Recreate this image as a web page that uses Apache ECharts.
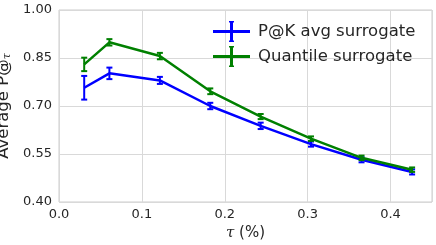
<!DOCTYPE html>
<html>
<head>
<meta charset="utf-8">
<script src="https://cdn.jsdelivr.net/npm/echarts@6/dist/echarts.min.js"></script>
<style>
  html, body { margin: 0; padding: 0; background: #fff; }
  #chart { width: 436px; height: 245px; }
</style>
</head>
<body>
<div id="chart"></div>
<script>
// tau values (%)
const tau = [0.0304, 0.0608, 0.1217, 0.1825, 0.2433, 0.304, 0.365, 0.426]
// P@K avg surrogate
const pkMean = [0.757, 0.802, 0.780, 0.700, 0.638, 0.581, 0.532, 0.494]
const pkErr = [0.037, 0.018, 0.011, 0.010, 0.010, 0.008, 0.008, 0.008]
// Quantile surrogate
const qMean = [0.830, 0.899, 0.856, 0.746, 0.667, 0.598, 0.538, 0.501]
const qErr = [0.021, 0.010, 0.010, 0.009, 0.008, 0.007, 0.007, 0.007]

const xTicks = { min: 0, max: 0.45, interval: 0.1 }
const yTicks = { min: 0.4, max: 1.0, interval: 0.15 }

const BLUE = '#0000ff'
const GREEN = '#008000'
// line with an error bar through its middle
const legendIcon = 'path://M0,9 L37,9 L37,12 L0,12 Z M17,0 L20,0 L20,21 L17,21 Z M16,0 L21,0 L21,1.5 L16,1.5 Z M16,19.5 L21,19.5 L21,21 L16,21 Z'

function pairs (xs, ys) {
  return xs.map((x, i) => [x, ys[i]])
}

// error bars as custom series: [x, low, high]
function errorSeries (name, color, mean, err, z) {
  return {
    name: name,
    type: 'custom',
    z: z,
    data: tau.map((x, i) => [x, mean[i] - err[i], mean[i] + err[i]]),
    renderItem: function (params, api) {
      let lo = api.coord([api.value(0), api.value(1)])
      let hi = api.coord([api.value(0), api.value(2)])
      let cap = 3
      let style = { stroke: color, lineWidth: 2 }
      return {
        type: 'group',
        children: [
          { type: 'line', shape: { x1: lo[0], y1: lo[1], x2: hi[0], y2: hi[1] }, style: style },
          { type: 'line', shape: { x1: lo[0] - cap, y1: lo[1], x2: lo[0] + cap, y2: lo[1] }, style: style },
          { type: 'line', shape: { x1: hi[0] - cap, y1: hi[1], x2: hi[0] + cap, y2: hi[1] }, style: style }
        ]
      }
    }
  }
}

const chart = echarts.init(document.getElementById('chart'))
chart.setOption({
  animation: false,
  backgroundColor: '#fff',
  textStyle: { fontFamily: 'DejaVu Sans', color: '#262626' },
  grid: {
    left: 59, right: 4, top: 10, bottom: 43,
    outerBoundsMode: 'none',
    containLabel: false,
    show: true, borderColor: '#cccccc', borderWidth: 1
  },
  legend: {
    data: ['P@K avg surrogate', 'Quantile surrogate'],
    orient: 'vertical',
    left: 208,
    top: 16,
    itemWidth: 37,
    itemHeight: 21,
    itemGap: 4,
    icon: legendIcon,
    textStyle: { fontSize: 16.5, color: '#262626', fontFamily: 'DejaVu Sans', padding: [0, 0, 0, 3] }
  },
  xAxis: {
    type: 'value',
    min: xTicks.min,
    max: xTicks.max,
    interval: xTicks.interval,
    name: '{i|τ} (%)',
    nameLocation: 'middle',
    nameGap: 21,
    nameTextStyle: {
      fontSize: 15,
      color: '#262626',
      rich: {
        i: { fontSize: 15, fontStyle: 'italic', fontFamily: 'DejaVu Serif', color: '#262626' }
      }
    },
    axisLine: { show: false },
    axisTick: { show: false },
    axisLabel: {
      fontSize: 13,
      color: '#262626',
      margin: 6,
      showMaxLabel: false,
      formatter: v => v.toFixed(1)
    },
    splitLine: { show: true, lineStyle: { color: '#d9d9d9', width: 1 } }
  },
  yAxis: {
    type: 'value',
    min: yTicks.min,
    max: yTicks.max,
    interval: yTicks.interval,
    name: '{a|Average P@}{s|τ}',
    nameLocation: 'middle',
    nameGap: 40,
    nameTextStyle: {
      fontSize: 16.5,
      color: '#262626',
      rich: {
        a: { fontSize: 16.5, color: '#262626', fontFamily: 'DejaVu Sans' },
        s: { fontSize: 11, fontStyle: 'italic', fontFamily: 'DejaVu Serif', color: '#262626', verticalAlign: 'bottom', padding: [6, 0, 0, 0] }
      }
    },
    axisLine: { show: false },
    axisTick: { show: false },
    axisLabel: {
      fontSize: 13,
      color: '#262626',
      margin: 7,
      formatter: v => v.toFixed(2)
    },
    splitLine: { show: true, lineStyle: { color: '#d9d9d9', width: 1 } }
  },
  series: [
    {
      name: 'P@K avg surrogate',
      type: 'line',
      data: pairs(tau, pkMean),
      showSymbol: false,
      symbol: 'none',
      itemStyle: { color: BLUE },
      lineStyle: { color: BLUE, width: 2.5 },
      z: 2
    },
    errorSeries('P@K avg surrogate', BLUE, pkMean, pkErr, 3),
    {
      name: 'Quantile surrogate',
      type: 'line',
      data: pairs(tau, qMean),
      showSymbol: false,
      symbol: 'none',
      itemStyle: { color: GREEN },
      lineStyle: { color: GREEN, width: 2.5 },
      z: 4
    },
    errorSeries('Quantile surrogate', GREEN, qMean, qErr, 5)
  ]
})
</script>
</body>
</html>
